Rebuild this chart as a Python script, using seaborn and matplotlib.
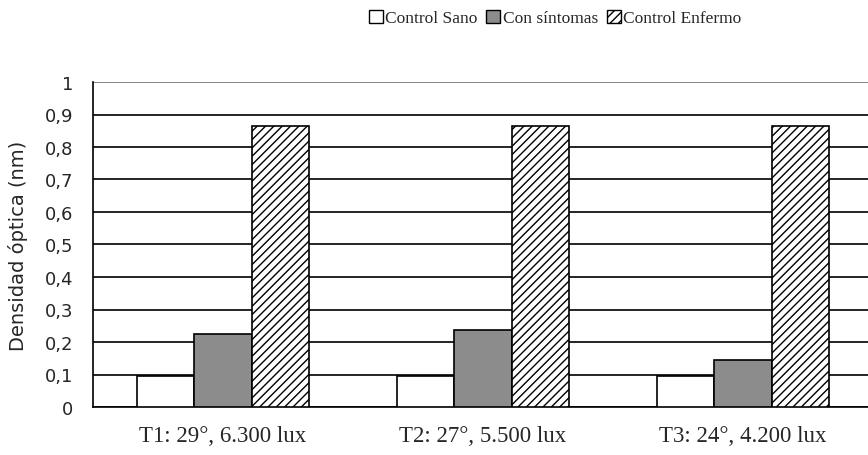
#!/usr/bin/env python3
"""Densidad óptica por tratamiento: grouped bars with hatch."""

import matplotlib

matplotlib.use("Agg")
import matplotlib.pyplot as plt
import pandas as pd
import seaborn as sns
from matplotlib.patches import Patch
from matplotlib.ticker import FuncFormatter, MultipleLocator

categories = ["T1: 29°, 6.300 lux", "T2: 27°, 5.500 lux", "T3: 24°, 4.200 lux"]
series = ["Control Sano", "Con síntomas", "Control Enfermo"]
control_sano = [0.095, 0.095, 0.095]
con_sintomas = [0.225, 0.238, 0.145]
control_enfermo = [0.865, 0.865, 0.865]

FILLS = {"Control Sano": "white", "Con síntomas": "#8c8c8c", "Control Enfermo": "white"}
HATCH = {"Control Sano": "", "Con síntomas": "", "Control Enfermo": "////"}

df = pd.DataFrame({
    "tratamiento": categories * 3,
    "serie": [s for s in series for _ in categories],
    "valor": control_sano + con_sintomas + control_enfermo,
})

sns.set_theme(style="white")
plt.rcParams["hatch.linewidth"] = 1.0

fig = plt.figure(figsize=(8.68, 4.56), dpi=100)
ax = fig.add_axes([93 / 868, 1 - 408 / 456, 780 / 868, 325 / 456])

sns.barplot(
    data=df, x="tratamiento", y="valor", hue="serie", order=categories, hue_order=series,
    palette=FILLS, width=0.66, edgecolor="black", linewidth=1.2, saturation=1,
    legend=False, ax=ax,
)
for container, name in zip(ax.containers, series):
    for bar in container:
        bar.set_hatch(HATCH[name])
        bar.set_zorder(3)

ax.set_ylim(0, 1)
ax.set_xlim(-0.5, 2.5)
ax.yaxis.set_major_locator(MultipleLocator(0.1))
ax.yaxis.set_major_formatter(FuncFormatter(lambda v, _: f"{v:.1f}".replace(".", ",").replace(",0", "")))
ax.grid(axis="y", color="black", linewidth=1.2, zorder=0)
ax.set_axisbelow(True)

for side in ["top", "right"]:
    ax.spines[side].set_visible(False)
for side in ["left", "bottom"]:
    ax.spines[side].set_color("black")
    ax.spines[side].set_linewidth(1.2)
ax.axhline(1, color="#999999", linewidth=1.2, zorder=1)

ax.tick_params(axis="y", which="major", direction="out", length=6, width=1.2, color="black",
               labelsize=13, pad=8)
ax.set_xticks([0, 1, 2])
ax.set_xticklabels(categories, family="Liberation Serif", fontsize=16.5)
ax.set_xticks([-0.5, 0.5, 1.5, 2.5], minor=True)
ax.tick_params(axis="x", which="major", length=0, pad=13)
ax.tick_params(axis="x", which="minor", direction="out", length=6, width=1.2, color="black")
for lbl in ax.get_yticklabels():
    lbl.set_family("DejaVu Sans")

ax.set_xlabel("")
ax.set_ylabel("Densidad óptica (nm)", family="DejaVu Sans", fontsize=14, labelpad=12)

handles = [Patch(facecolor=FILLS[s], edgecolor="black", hatch=HATCH[s], linewidth=1) for s in series]
fig.legend(handles, series, loc="center", bbox_to_anchor=(555 / 868, 1 - 19 / 456), ncol=3,
           frameon=False, prop={"family": "Liberation Serif", "size": 12.5},
           handlelength=0.8, handleheight=0.8, handletextpad=0.15, columnspacing=0.5)

fig.savefig("out.png", dpi=100)
plt.close(fig)
print("[fig] out.png")
